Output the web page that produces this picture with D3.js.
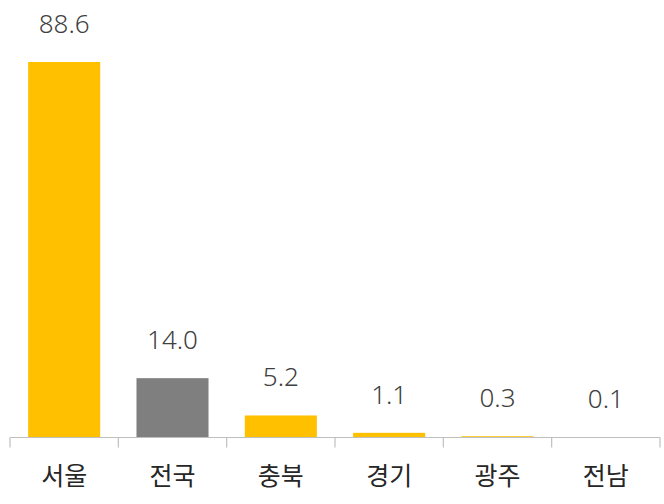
<!DOCTYPE html>
<html>
<head>
<meta charset="utf-8">
<script src="https://cdn.jsdelivr.net/npm/d3@7"></script>
<style>
  body { margin: 0; background: #fff; }
  .bar-label { font-family: "Noto Sans", "Noto Sans CJK KR", sans-serif; font-weight: 300; font-size: 26px; fill: #404040; }
  .cat-label { font-family: "Noto Sans CJK KR", sans-serif; font-size: 25px; fill: #262626; }
</style>
</head>
<body>
<div id="chart"></div>
<script>
// 지역별 값
var regions = ["서울", "전국", "충북", "경기", "광주", "전남"];
var values = [88.6, 14.0, 5.2, 1.1, 0.3, 0.1];
var labels = ["88.6", "14.0", "5.2", "1.1", "0.3", "0.1"];
var highlight = ["전국"]; // 회색 막대

var width = 664, height = 504;
var axisY = 437.5, left = 10, right = 660;

var svg = d3.select("#chart").append("svg")
  .attr("width", width)
  .attr("height", height);

var x = d3.scaleBand()
  .domain(regions)
  .range([left, right])
  .paddingInner(0.335)
  .paddingOuter(0.1675);

var y = d3.scaleLinear()
  .domain([0, 88.6])
  .range([axisY, 62]);

// 막대
svg.append("g").selectAll("rect")
  .data(regions)
  .enter().append("rect")
  .attr("x", function(d){ return x(d); })
  .attr("y", function(d, i){ return y(values[i]); })
  .attr("width", x.bandwidth())
  .attr("height", function(d, i){ return axisY - y(values[i]); })
  .attr("fill", function(d){ return highlight.indexOf(d) >= 0 ? "#7f7f7f" : "#ffc000"; });

// 값 라벨
svg.append("g").selectAll("text")
  .data(regions)
  .enter().append("text")
  .attr("class", "bar-label")
  .attr("x", function(d){ return x(d) + x.bandwidth() / 2; })
  .attr("y", function(d, i){ return y(values[i]) - 29; })
  .attr("text-anchor", "middle")
  .text(function(d, i){ return labels[i]; });

// x축 선과 눈금
var step = x.step();
var g = svg.append("g").attr("class", "axis");
g.append("line")
  .attr("x1", left).attr("x2", right)
  .attr("y1", axisY).attr("y2", axisY)
  .style("stroke", "#bfbfbf").style("stroke-width", 1.2);

for (var i = 0; i <= regions.length; i++) {
  var tx = left + i * step;
  g.append("line")
    .attr("x1", tx).attr("x2", tx)
    .attr("y1", axisY).attr("y2", axisY + 10)
    .style("stroke", "#bfbfbf").style("stroke-width", 1.2);
}

// 범주 라벨
svg.append("g").selectAll("text")
  .data(regions)
  .enter().append("text")
  .attr("class", "cat-label")
  .attr("x", function(d){ return x(d) + x.bandwidth() / 2; })
  .attr("y", 485)
  .attr("text-anchor", "middle")
  .text(function(d){ return d; });
</script>
</body>
</html>
